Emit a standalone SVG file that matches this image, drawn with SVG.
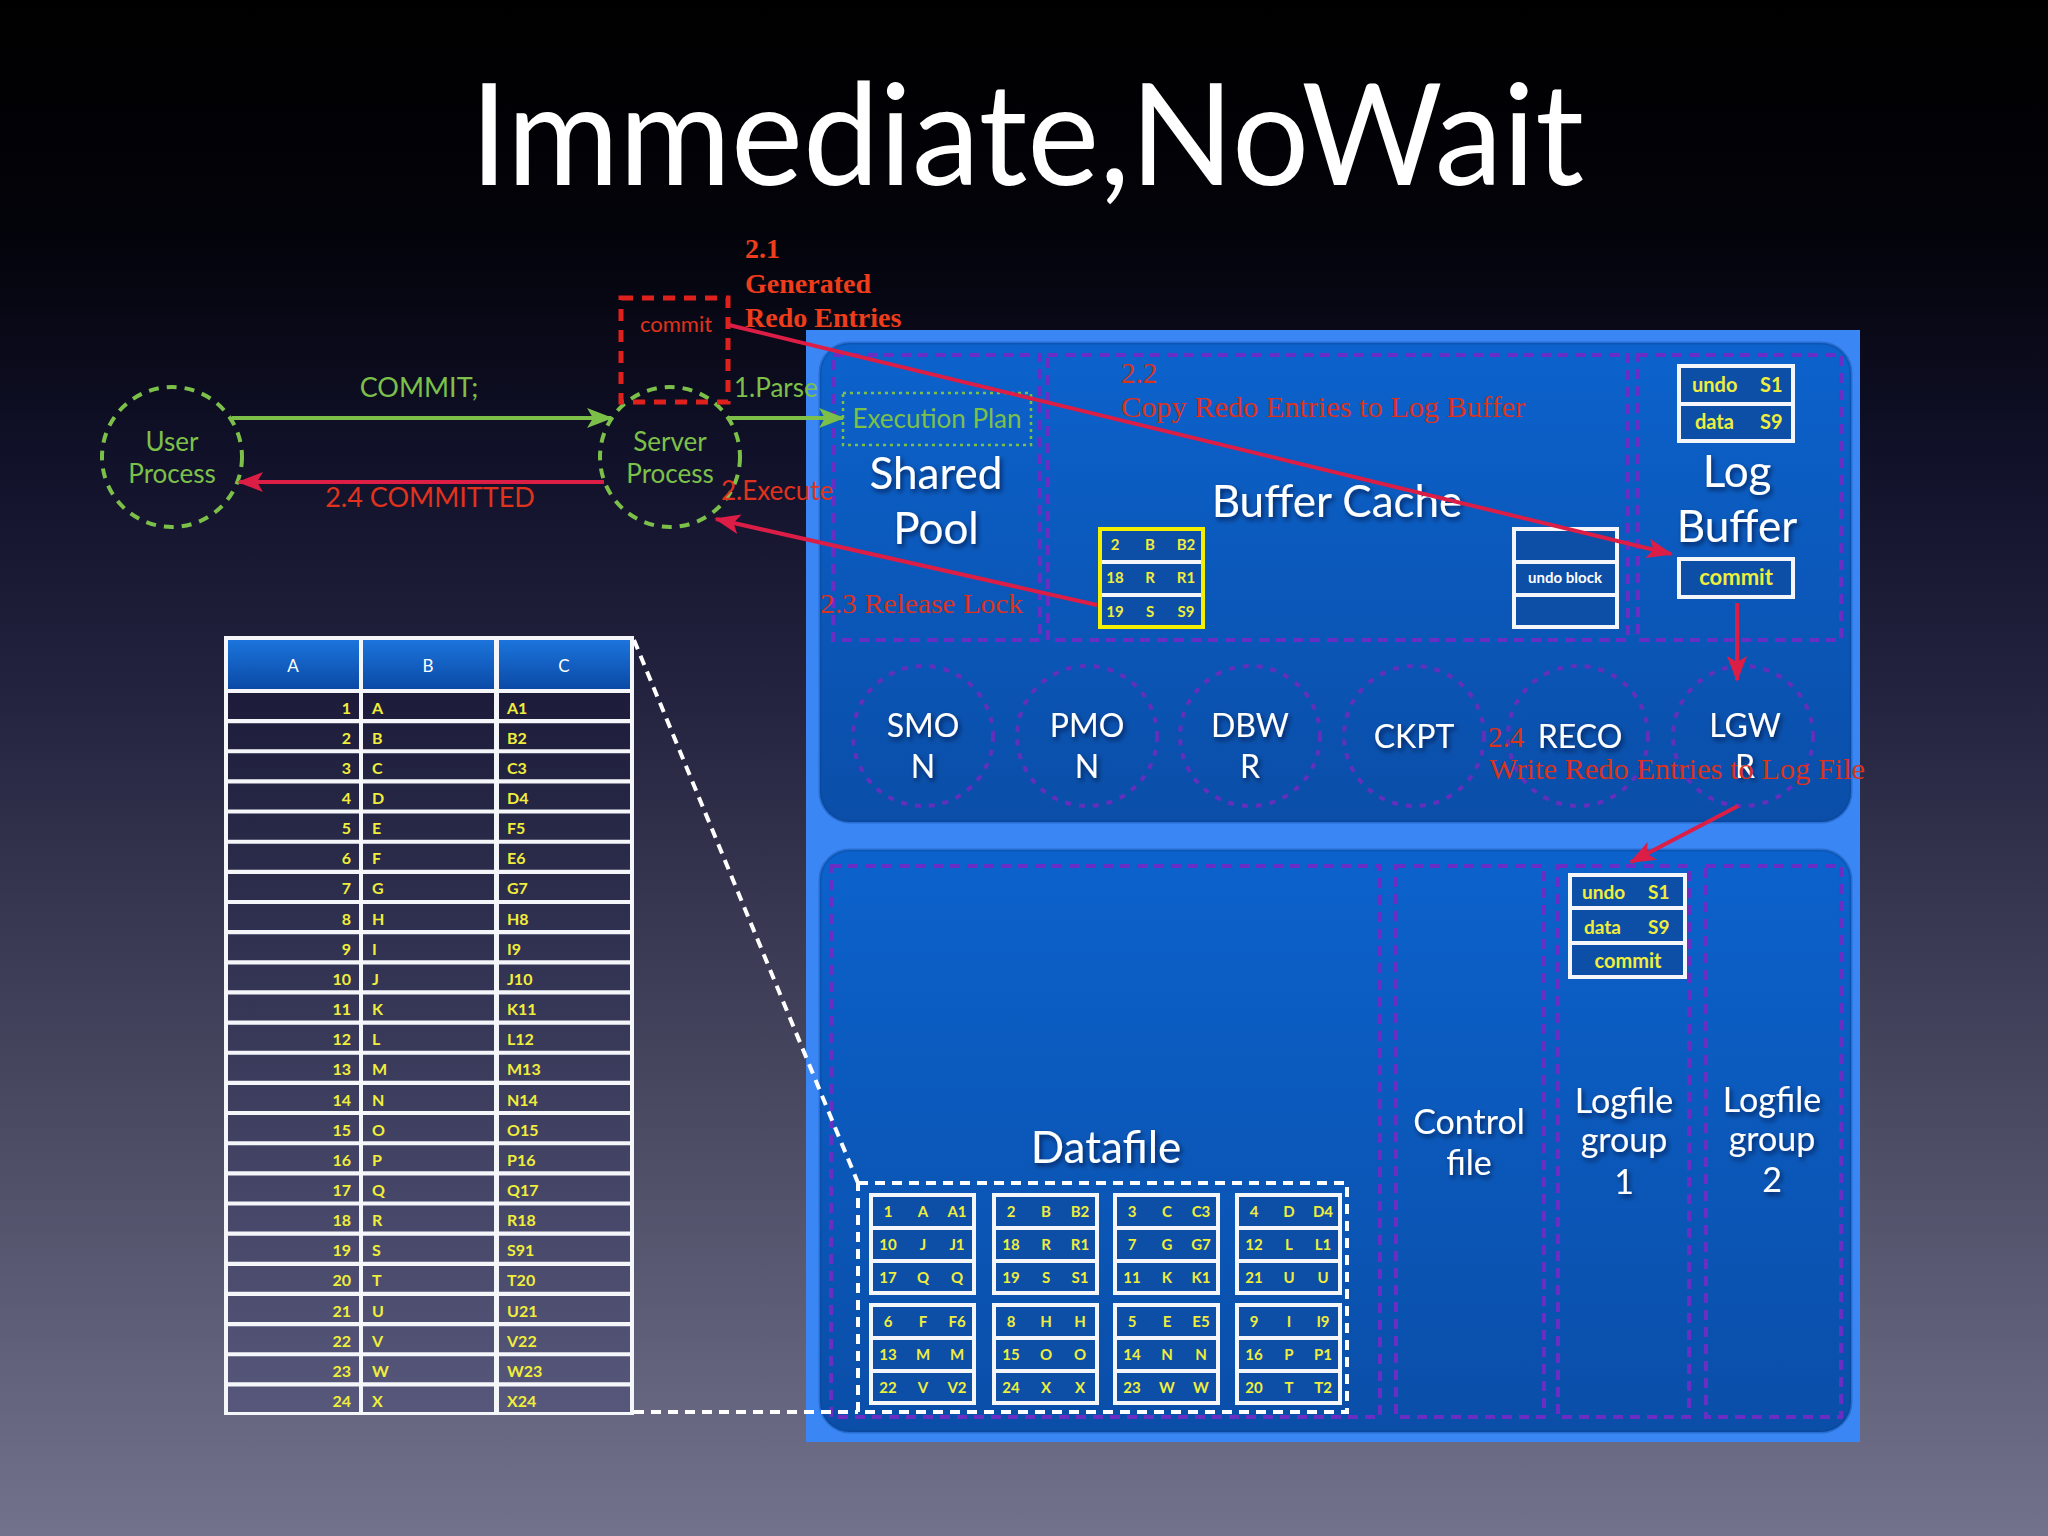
<svg xmlns="http://www.w3.org/2000/svg" xmlns:xlink="http://www.w3.org/1999/xlink" width="2048" height="1536" viewBox="0 0 2048 1536">
<defs>
  <linearGradient id="bg" x1="0" y1="0" x2="0" y2="1">
    <stop offset="0" stop-color="#000000"/>
    <stop offset="0.15" stop-color="#03030a"/>
    <stop offset="0.3" stop-color="#11112a"/>
    <stop offset="0.45" stop-color="#23233f"/>
    <stop offset="0.7" stop-color="#46465f"/>
    <stop offset="1" stop-color="#72728c"/>
  </linearGradient>
  <linearGradient id="panel" x1="0" y1="0" x2="0" y2="1">
    <stop offset="0" stop-color="#0c62cc"/>
    <stop offset="1" stop-color="#0a4ea8"/>
  </linearGradient>
  <linearGradient id="hdr" x1="0" y1="0" x2="0" y2="1">
    <stop offset="0" stop-color="#1c74dc"/>
    <stop offset="1" stop-color="#0a4aa6"/>
  </linearGradient>
  <linearGradient id="cell" gradientUnits="userSpaceOnUse" x1="0" y1="690" x2="0" y2="1412">
    <stop offset="0" stop-color="#1c1c3a"/>
    <stop offset="1" stop-color="#57577b"/>
  </linearGradient>
  <filter id="sh" x="-20%" y="-20%" width="140%" height="140%">
    <feDropShadow dx="2" dy="3" stdDeviation="2.5" flood-color="#000022" flood-opacity="0.6"/>
  </filter>
  <marker id="mr" markerUnits="userSpaceOnUse" markerWidth="26" markerHeight="20" refX="24" refY="10" orient="auto">
    <path d="M0,0 L26,10 L0,20 L6,10 z" fill="#dc1e46"/>
  </marker>
  <marker id="mg" markerUnits="userSpaceOnUse" markerWidth="26" markerHeight="20" refX="24" refY="10" orient="auto">
    <path d="M0,0 L26,10 L0,20 L6,10 z" fill="#7cc04a"/>
  </marker>
  <g id="blk3">
    <rect x="0" y="0" width="107" height="102" fill="#f4f6fa"/>
    <rect x="4" y="4" width="99" height="29" fill="#0d4ea6"/>
    <rect x="4" y="37" width="99" height="29" fill="#0d4ea6"/>
    <rect x="4" y="70" width="99" height="28" fill="#0d4ea6"/>
  </g>
</defs>
<style>
  .sans { font-family: Lato, "Open Sans", "Liberation Sans", sans-serif; }
  .wt { fill: #ffffff; filter: url(#sh); }
  .big { font-size: 44px; }
  .proc { font-size: 32px; }
  .files { font-size: 34px; }
  .grn { fill: #7cc04a; }
  .sred { font-family: "Liberation Serif", "Times New Roman", serif; fill: #dc321c; }
  .y { font-family: Lato, "Open Sans", "Liberation Sans", sans-serif; font-weight: 700; fill: #f0ee3c; }
  .c { text-anchor: middle; }
  .pd { fill: none; stroke: #6a2ec4; stroke-width: 4; stroke-dasharray: 10 7; }
  .pc { fill: none; stroke: #6230bc; stroke-width: 4; stroke-dasharray: 6 8; }
  .gc { fill: none; stroke: #7cc04a; stroke-width: 4; stroke-dasharray: 10 8; }
  .ar { fill: none; stroke: #dc1e46; stroke-width: 4; marker-end: url(#mr); }
  .ag { fill: none; stroke: #7cc04a; stroke-width: 4; marker-end: url(#mg); }
  .wd { fill: none; stroke: #ffffff; stroke-width: 4; stroke-dasharray: 10 7; }
</style>

<rect x="0" y="0" width="2048" height="1536" fill="url(#bg)"/>

<g id="title">
  <text x="470" y="185" class="sans" font-size="142" fill="#ffffff" textLength="1114" lengthAdjust="spacingAndGlyphs">Immediate,NoWait</text>
</g>

<g id="instance-panel">
  <rect x="806" y="330" width="1054" height="1112" fill="#3a86f4"/>
  <rect x="820" y="343" width="1031" height="479" rx="30" fill="url(#panel)" stroke="#0a3f8c" stroke-opacity="0.35" stroke-width="3"/>
  <rect x="820" y="850" width="1031" height="582" rx="30" fill="url(#panel)" stroke="#0a3f8c" stroke-opacity="0.35" stroke-width="3"/>
</g>

<g id="shared-pool">
  <rect x="833" y="355" width="207" height="285" class="pd"/>
  <rect x="843" y="393" width="188" height="52" fill="none" stroke="#7cc04a" stroke-width="2.5" stroke-dasharray="3 4"/>
  <text x="937" y="428" class="sans grn c" font-size="26">Execution Plan</text>
  <text x="936" y="489" class="sans wt big c">Shared</text>
  <text x="936" y="544" class="sans wt big c">Pool</text>
</g>

<g id="buffer-cache">
  <rect x="1048" y="355" width="580" height="285" class="pd"/>
  <text x="1337" y="517" class="sans wt big c">Buffer Cache</text>
  <use xlink:href="#blk3" x="1098" y="527"/>
  <rect x="1100" y="529" width="103" height="98" fill="none" stroke="#f2f000" stroke-width="4"/>
  <text x="1115" y="550" class="y c" font-size="15">2</text>
  <text x="1150" y="550" class="y c" font-size="15">B</text>
  <text x="1186" y="550" class="y c" font-size="15">B2</text>
  <text x="1115" y="583" class="y c" font-size="15">18</text>
  <text x="1150" y="583" class="y c" font-size="15">R</text>
  <text x="1186" y="583" class="y c" font-size="15">R1</text>
  <text x="1115" y="617" class="y c" font-size="15">19</text>
  <text x="1150" y="617" class="y c" font-size="15">S</text>
  <text x="1186" y="617" class="y c" font-size="15">S9</text>
  <use xlink:href="#blk3" x="1512" y="527"/>
  <text x="1565" y="583" class="sans c" font-size="15" font-weight="700" fill="#ffffff">undo block</text>
</g>

<g id="log-buffer">
  <rect x="1638" y="355" width="203" height="285" class="pd"/>
  <rect x="1677" y="364" width="118" height="79" fill="#f4f6fa"/>
  <rect x="1681" y="368" width="110" height="34" fill="#0d4ea6"/>
  <rect x="1681" y="406" width="110" height="33" fill="#0d4ea6"/>
  <text x="1692" y="392" class="y" font-size="20">undo</text>
  <text x="1760" y="392" class="y" font-size="20">S1</text>
  <text x="1695" y="429" class="y" font-size="20">data</text>
  <text x="1760" y="429" class="y" font-size="20">S9</text>
  <text x="1737" y="487" class="sans wt big c">Log</text>
  <text x="1737" y="542" class="sans wt big c">Buffer</text>
  <rect x="1677" y="557" width="118" height="42" fill="#f4f6fa"/>
  <rect x="1681" y="561" width="110" height="34" fill="#0d4ea6"/>
  <text x="1736" y="585" class="y c" font-size="22">commit</text>
</g>

<g id="background-processes">
  <g id="smon"><circle cx="923" cy="736" r="70" class="pc"/><text x="923" y="737" class="sans wt proc c">SMO</text><text x="923" y="778" class="sans wt proc c">N</text></g>
  <g id="pmon"><circle cx="1087" cy="736" r="70" class="pc"/><text x="1087" y="737" class="sans wt proc c">PMO</text><text x="1087" y="778" class="sans wt proc c">N</text></g>
  <g id="dbwr"><circle cx="1250" cy="736" r="70" class="pc"/><text x="1250" y="737" class="sans wt proc c">DBW</text><text x="1250" y="778" class="sans wt proc c">R</text></g>
  <g id="ckpt"><circle cx="1414" cy="736" r="70" class="pc"/><text x="1414" y="748" class="sans wt proc c">CKPT</text></g>
  <g id="reco"><circle cx="1578" cy="736" r="70" class="pc"/><text x="1580" y="748" class="sans wt proc c">RECO</text></g>
  <g id="lgwr"><circle cx="1743" cy="736" r="70" class="pc"/><text x="1745" y="737" class="sans wt proc c">LGW</text><text x="1745" y="778" class="sans wt proc c">R</text></g>
</g>

<g id="datafile">
  <rect x="831" y="866" width="549" height="551" class="pd"/>
  <text x="1106" y="1163" class="sans wt big c">Datafile</text>
  <rect x="858" y="1183" width="489" height="229" fill="none" stroke="#ffffff" stroke-width="4" stroke-dasharray="10 7"/>
  <use xlink:href="#blk3" x="869" y="1193"/>
  <use xlink:href="#blk3" x="992" y="1193"/>
  <use xlink:href="#blk3" x="1113" y="1193"/>
  <use xlink:href="#blk3" x="1235" y="1193"/>
  <use xlink:href="#blk3" x="869" y="1303"/>
  <use xlink:href="#blk3" x="992" y="1303"/>
  <use xlink:href="#blk3" x="1113" y="1303"/>
  <use xlink:href="#blk3" x="1235" y="1303"/>
  <g class="y c" font-size="15">
    <text x="888" y="1217">1</text><text x="923" y="1217">A</text><text x="957" y="1217">A1</text>
    <text x="888" y="1250">10</text><text x="923" y="1250">J</text><text x="957" y="1250">J1</text>
    <text x="888" y="1283">17</text><text x="923" y="1283">Q</text><text x="957" y="1283">Q</text>
    <text x="1011" y="1217">2</text><text x="1046" y="1217">B</text><text x="1080" y="1217">B2</text>
    <text x="1011" y="1250">18</text><text x="1046" y="1250">R</text><text x="1080" y="1250">R1</text>
    <text x="1011" y="1283">19</text><text x="1046" y="1283">S</text><text x="1080" y="1283">S1</text>
    <text x="1132" y="1217">3</text><text x="1167" y="1217">C</text><text x="1201" y="1217">C3</text>
    <text x="1132" y="1250">7</text><text x="1167" y="1250">G</text><text x="1201" y="1250">G7</text>
    <text x="1132" y="1283">11</text><text x="1167" y="1283">K</text><text x="1201" y="1283">K1</text>
    <text x="1254" y="1217">4</text><text x="1289" y="1217">D</text><text x="1323" y="1217">D4</text>
    <text x="1254" y="1250">12</text><text x="1289" y="1250">L</text><text x="1323" y="1250">L1</text>
    <text x="1254" y="1283">21</text><text x="1289" y="1283">U</text><text x="1323" y="1283">U</text>
    <text x="888" y="1327">6</text><text x="923" y="1327">F</text><text x="957" y="1327">F6</text>
    <text x="888" y="1360">13</text><text x="923" y="1360">M</text><text x="957" y="1360">M</text>
    <text x="888" y="1393">22</text><text x="923" y="1393">V</text><text x="957" y="1393">V2</text>
    <text x="1011" y="1327">8</text><text x="1046" y="1327">H</text><text x="1080" y="1327">H</text>
    <text x="1011" y="1360">15</text><text x="1046" y="1360">O</text><text x="1080" y="1360">O</text>
    <text x="1011" y="1393">24</text><text x="1046" y="1393">X</text><text x="1080" y="1393">X</text>
    <text x="1132" y="1327">5</text><text x="1167" y="1327">E</text><text x="1201" y="1327">E5</text>
    <text x="1132" y="1360">14</text><text x="1167" y="1360">N</text><text x="1201" y="1360">N</text>
    <text x="1132" y="1393">23</text><text x="1167" y="1393">W</text><text x="1201" y="1393">W</text>
    <text x="1254" y="1327">9</text><text x="1289" y="1327">I</text><text x="1323" y="1327">I9</text>
    <text x="1254" y="1360">16</text><text x="1289" y="1360">P</text><text x="1323" y="1360">P1</text>
    <text x="1254" y="1393">20</text><text x="1289" y="1393">T</text><text x="1323" y="1393">T2</text>
  </g>
</g>

<g id="control-file">
  <rect x="1396" y="866" width="148" height="551" class="pd"/>
  <text x="1469" y="1134" class="sans wt files c">Control</text>
  <text x="1469" y="1175" class="sans wt files c">file</text>
</g>

<g id="logfile-group-1">
  <rect x="1558" y="866" width="131" height="551" class="pd"/>
  <rect x="1568" y="873" width="119" height="106" fill="#f4f6fa"/>
  <rect x="1572" y="877" width="111" height="29" fill="#0d4ea6"/>
  <rect x="1572" y="910" width="111" height="31" fill="#0d4ea6"/>
  <rect x="1572" y="945" width="111" height="30" fill="#0d4ea6"/>
  <text x="1582" y="899" class="y" font-size="19">undo</text>
  <text x="1648" y="899" class="y" font-size="19">S1</text>
  <text x="1584" y="934" class="y" font-size="19">data</text>
  <text x="1648" y="934" class="y" font-size="19">S9</text>
  <text x="1628" y="968" class="y c" font-size="20">commit</text>
  <text x="1624" y="1113" class="sans wt files c">Logfile</text>
  <text x="1624" y="1152" class="sans wt files c">group</text>
  <text x="1624" y="1194" class="sans wt files c">1</text>
</g>

<g id="logfile-group-2">
  <rect x="1706" y="866" width="135" height="551" class="pd"/>
  <text x="1772" y="1112" class="sans wt files c">Logfile</text>
  <text x="1772" y="1151" class="sans wt files c">group</text>
  <text x="1772" y="1192" class="sans wt files c">2</text>
</g>

<g id="user-process">
  <circle cx="172" cy="457" r="70" class="gc"/>
  <text x="172" y="451" class="sans grn c" font-size="26">User</text>
  <text x="172" y="483" class="sans grn c" font-size="26">Process</text>
</g>

<g id="server-process">
  <circle cx="670" cy="457" r="70" class="gc"/>
  <text x="670" y="451" class="sans grn c" font-size="26">Server</text>
  <text x="670" y="483" class="sans grn c" font-size="26">Process</text>
</g>

<g id="commit-entry">
  <rect x="621" y="298" width="107" height="104" fill="none" stroke="#e0201c" stroke-width="5" stroke-dasharray="12 9"/>
  <text x="676" y="332" class="sans c" font-size="22" fill="#e0321c">commit</text>
</g>

<g id="table">
  <rect x="224" y="636" width="410" height="779" fill="#f4f6fa"/>
  <rect x="228" y="640" width="131" height="49" fill="url(#hdr)"/>
  <rect x="363" y="640" width="131" height="49" fill="url(#hdr)"/>
  <rect x="499" y="640" width="131" height="49" fill="url(#hdr)"/>
  <text x="293" y="672" class="sans c" font-size="17" fill="#ffffff">A</text>
  <text x="428" y="672" class="sans c" font-size="17" fill="#ffffff">B</text>
  <text x="564" y="672" class="sans c" font-size="17" fill="#ffffff">C</text>
  <rect x="228" y="693" width="402" height="719" fill="url(#cell)"/>
  <rect x="359" y="693" width="4" height="719" fill="#f4f6fa"/>
  <rect x="494" y="693" width="5" height="719" fill="#f4f6fa"/>
  <path d="M228,721.1H630M228,751.2H630M228,781.4H630M228,811.5H630M228,841.7H630M228,871.8H630M228,902H630M228,932.1H630M228,962.3H630M228,992.4H630M228,1022.6H630M228,1052.7H630M228,1082.9H630M228,1113H630M228,1143.2H630M228,1173.3H630M228,1203.5H630M228,1233.6H630M228,1263.8H630M228,1293.9H630M228,1324.1H630M228,1354.2H630M228,1384.4H630" stroke="#f4f6fa" stroke-width="4.15" fill="none"/>
  <g class="y" font-size="16" text-anchor="end">
    <text x="351" y="713.5">1</text><text x="351" y="743.7">2</text><text x="351" y="773.8">3</text><text x="351" y="804">4</text>
    <text x="351" y="834.1">5</text><text x="351" y="864.3">6</text><text x="351" y="894.4">7</text><text x="351" y="924.6">8</text>
    <text x="351" y="954.7">9</text><text x="351" y="984.9">10</text><text x="351" y="1015">11</text><text x="351" y="1045.2">12</text>
    <text x="351" y="1075.3">13</text><text x="351" y="1105.5">14</text><text x="351" y="1135.6">15</text><text x="351" y="1165.8">16</text>
    <text x="351" y="1195.9">17</text><text x="351" y="1226.1">18</text><text x="351" y="1256.2">19</text><text x="351" y="1286.4">20</text>
    <text x="351" y="1316.5">21</text><text x="351" y="1346.7">22</text><text x="351" y="1376.8">23</text><text x="351" y="1407">24</text>
  </g>
  <g class="y" font-size="16">
    <text x="372" y="713.5">A</text><text x="372" y="743.7">B</text><text x="372" y="773.8">C</text><text x="372" y="804">D</text>
    <text x="372" y="834.1">E</text><text x="372" y="864.3">F</text><text x="372" y="894.4">G</text><text x="372" y="924.6">H</text>
    <text x="372" y="954.7">I</text><text x="372" y="984.9">J</text><text x="372" y="1015">K</text><text x="372" y="1045.2">L</text>
    <text x="372" y="1075.3">M</text><text x="372" y="1105.5">N</text><text x="372" y="1135.6">O</text><text x="372" y="1165.8">P</text>
    <text x="372" y="1195.9">Q</text><text x="372" y="1226.1">R</text><text x="372" y="1256.2">S</text><text x="372" y="1286.4">T</text>
    <text x="372" y="1316.5">U</text><text x="372" y="1346.7">V</text><text x="372" y="1376.8">W</text><text x="372" y="1407">X</text>
  </g>
  <g class="y" font-size="16">
    <text x="507" y="713.5">A1</text><text x="507" y="743.7">B2</text><text x="507" y="773.8">C3</text><text x="507" y="804">D4</text>
    <text x="507" y="834.1">F5</text><text x="507" y="864.3">E6</text><text x="507" y="894.4">G7</text><text x="507" y="924.6">H8</text>
    <text x="507" y="954.7">I9</text><text x="507" y="984.9">J10</text><text x="507" y="1015">K11</text><text x="507" y="1045.2">L12</text>
    <text x="507" y="1075.3">M13</text><text x="507" y="1105.5">N14</text><text x="507" y="1135.6">O15</text><text x="507" y="1165.8">P16</text>
    <text x="507" y="1195.9">Q17</text><text x="507" y="1226.1">R18</text><text x="507" y="1256.2">S91</text><text x="507" y="1286.4">T20</text>
    <text x="507" y="1316.5">U21</text><text x="507" y="1346.7">V22</text><text x="507" y="1376.8">W23</text><text x="507" y="1407">X24</text>
  </g>
</g>

<g id="connectors">
  <path d="M232,418 L611,418" class="ag"/>
  <path d="M729,418 L843,418" class="ag"/>
  <path d="M604,482 L239,482" class="ar"/>
  <path d="M1097,605 L716,519" class="ar"/>
  <path d="M729,325 L1671,554" class="ar"/>
  <path d="M1737,603 L1737,680" class="ar"/>
  <path d="M1738,806 L1631,862" class="ar"/>
  <path d="M634,640 L858,1183" class="wd"/>
  <path d="M634,1412 L858,1412" class="wd"/>
</g>

<g id="labels">
  <text x="419" y="397" class="sans grn c" font-size="27">COMMIT;</text>
  <text x="734" y="397" class="sans grn" font-size="26">1.Parse</text>
  <text x="430" y="507" class="sans c" font-size="27" fill="#e0321c">2.4 COMMITTED</text>
  <text x="721" y="500" class="sans" font-size="26" fill="#e0321c">2.Execute</text>
  <g class="sred" font-weight="700" font-size="28" fill="#ef3c1a">
    <text x="745" y="258" fill="#ef3c1a">2.1</text>
    <text x="745" y="293" fill="#ef3c1a">Generated</text>
    <text x="745" y="327" fill="#ef3c1a">Redo Entries</text>
  </g>
  <text x="1121" y="383" class="sred" font-size="29">2.2</text>
  <text x="1121" y="417" class="sred" font-size="29" textLength="404" lengthAdjust="spacingAndGlyphs">Copy Redo Entries to Log Buffer</text>
  <text x="820" y="613" class="sred" font-size="28" textLength="203" lengthAdjust="spacingAndGlyphs">2.3 Release Lock</text>
  <text x="1488" y="747" class="sred" font-size="29">2.4</text>
  <text x="1489" y="779" class="sred" font-size="29" textLength="376" lengthAdjust="spacingAndGlyphs">Write Redo Entries to Log File</text>
</g>
</svg>
